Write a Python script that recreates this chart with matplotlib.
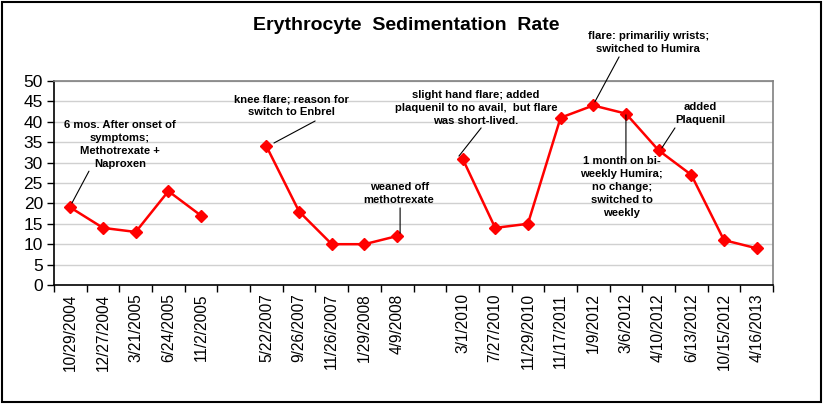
import numpy as np
import matplotlib
matplotlib.use("Agg")
import matplotlib.pyplot as plt
from matplotlib.ticker import FixedLocator, MultipleLocator
from matplotlib.patches import Rectangle

plt.rcParams["font.family"] = ["Liberation Sans", "DejaVu Sans"]

# ── Data (blank labels are gaps between treatment periods) ─────────────────
dates = ["10/29/2004", "12/27/2004", "3/21/2005", "6/24/2005", "11/2/2005", "",
         "5/22/2007", "9/26/2007", "11/26/2007", "1/29/2008", "4/9/2008", "",
         "3/1/2010", "7/27/2010", "11/29/2010", "11/17/2011", "1/9/2012",
         "3/6/2012", "4/10/2012", "6/13/2012", "10/15/2012", "4/16/2013"]
esr = [19, 14, 13, 23, 17, None,
       34, 18, 10, 10, 12, None,
       31, 14, 15, 41, 44, 42, 33, 27, 11, 9]

notes = [
    "6 mos. After onset of\nsymptoms;\nMethotrexate +\nNaproxen",
    "knee flare; reason for\nswitch to Enbrel",
    "weaned off\nmethotrexate",
    "slight hand flare; added\nplaquenil to no avail,  but flare\nwas short-lived.",
    "flare: primariliy wrists;\nswitched to Humira",
    "added\nPlaquenil",
    "1 month on bi-\nweekly Humira;\nno change;\nswitched to\nweekly",
]
# text anchor (x, top y), leader line start, leader line end -- data coords
note_text = [(1.52, 40.4), (6.78, 46.8), (10.06, 25.2), (12.41, 47.7),
             (17.68, 62.3), (19.27, 44.9), (16.87, 31.6)]
note_from = [(0.57, 27.9), (7.49, 40.2), (10.09, 18.9), (12.57, 38.5),
             (16.79, 55.9), (18.50, 38.5), (17.00, 30.1)]
note_to = [(0.05, 20.1), (6.23, 34.8), (10.09, 12.7), (11.89, 31.6),
           (16.05, 44.9), (18.10, 33.6), (17.00, 41.7)]

x = np.arange(len(dates))
y = np.array([np.nan if v is None else v for v in esr], dtype=float)

fig = plt.figure(figsize=(8.23, 4.04), dpi=100)
ax = fig.add_axes([54 / 823, 1 - 285 / 404, 719 / 823, 204 / 404])

ax.plot(x, y, color="#ff0000", lw=1.8, marker="D", ms=6.5, mec="#ff0000", zorder=3)

ax.set_xlim(-0.5, len(dates) - 0.5)
ax.set_ylim(0, 50)
ax.yaxis.set_major_locator(MultipleLocator(5))
ax.grid(True, axis="y", color="#d0d0d0", lw=1.0)
ax.set_axisbelow(True)

ax.set_xticks(x)
ax.set_xticklabels(dates, rotation=90, fontsize=11.2, va="top", ha="center")
ax.xaxis.set_minor_locator(FixedLocator(np.arange(-0.5, len(dates), 1.0)))
ax.tick_params(axis="x", which="major", length=0, pad=6)
ax.tick_params(axis="x", which="minor", length=5, direction="out", width=1)
ax.tick_params(axis="y", length=5, direction="out", width=1, labelsize=12.5, pad=3)

for s in ("top", "right"):
    ax.spines[s].set_color("#808080")
    ax.spines[s].set_linewidth(1.2)
for s in ("left", "bottom"):
    ax.spines[s].set_color("black")
    ax.spines[s].set_linewidth(1.2)

for txt, (tx, ty), p0, p1 in zip(notes, note_text, note_from, note_to):
    ax.text(tx, ty, txt, ha="center", va="top", fontsize=8.1, fontweight="bold",
            linespacing=1.38, clip_on=False, zorder=4)
    ax.annotate("", xy=p1, xytext=p0, annotation_clip=False,
                arrowprops=dict(arrowstyle="-", color="black", lw=0.8,
                                shrinkA=0, shrinkB=0))

fig.text(406 / 823, 1 - 26 / 404, "Erythrocyte  Sedimentation  Rate",
         ha="center", va="center", fontsize=14, fontweight="bold")

fig.patches.append(Rectangle((2 / 823, 2 / 404), 819 / 823, 400 / 404,
                             transform=fig.transFigure, fill=False,
                             edgecolor="black", lw=1.5))

fig.savefig("out.png", dpi=100)
